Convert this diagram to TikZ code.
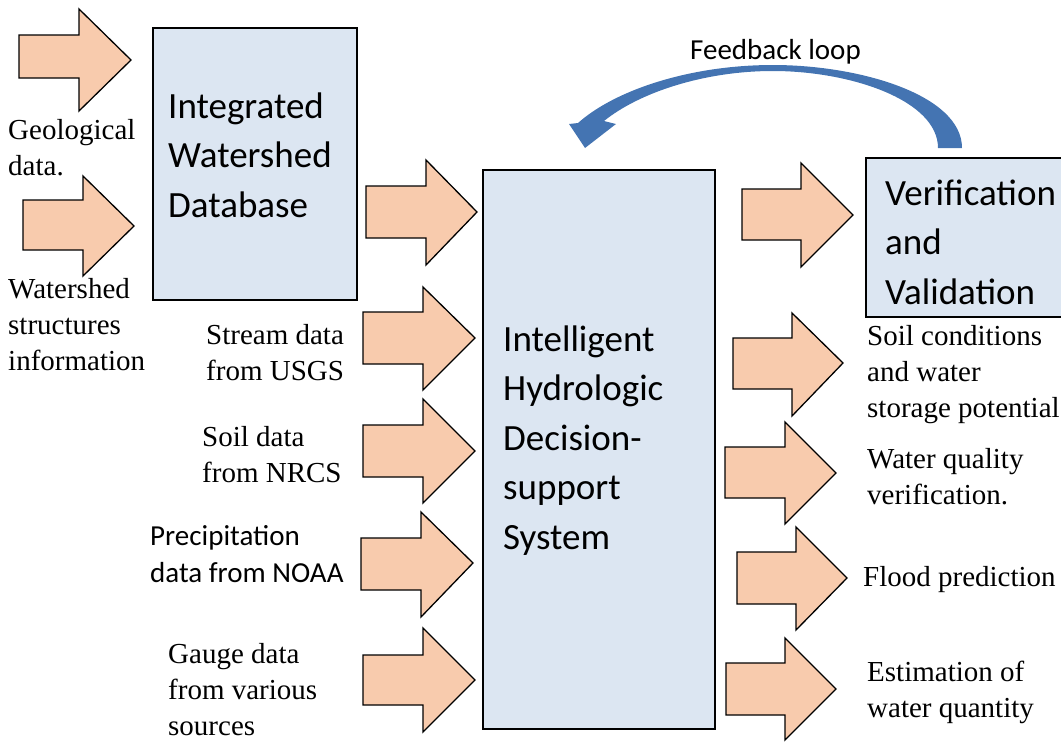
\documentclass[tikz,border=0pt]{standalone}
\usepackage{fontspec}
\setmainfont{Liberation Serif}
\newfontfamily\calfont{Carlito}
\definecolor{peach}{RGB}{248,203,173}
\definecolor{boxblue}{RGB}{220,230,242}
\definecolor{loopblue}{RGB}{68,116,178}
\newcommand\blockarrow[8]{%
  \draw[arrowshape] (#1,#5) -- (#2,#5) -- (#2,#7) -- (#3,#4) -- (#2,#8) -- (#2,#6) -- (#1,#6) -- cycle;}
\tikzset{
  arrowshape/.style={draw=black, line width=1.3pt, fill=peach, line join=miter},
  boxshape/.style={draw=black, line width=1.5pt, fill=boxblue, inner sep=0pt, anchor=north west},
  bigtext/.style={font=\calfont\fontsize{37}{49.5}\selectfont, align=left, inner sep=0pt, anchor=base west},
  caltext/.style={font=\calfont\fontsize{29}{37}\selectfont, align=left, inner sep=0pt, anchor=base west},
  sertext/.style={font=\fontsize{29}{36}\selectfont, align=left, inner sep=0pt, anchor=base west},
}
\begin{document}
\begin{tikzpicture}[x=1pt,y=-1pt]
\useasboundingbox (0,0) rectangle (1061,742);
% boxes
\node[boxshape, minimum width=204pt, minimum height=272pt] (db) at (152,27) {};
\node[boxshape, minimum width=232pt, minimum height=559pt] (ihds) at (482,169) {};
\node[boxshape, minimum width=205pt, minimum height=159pt] (vv) at (865,157) {};
% box texts (anchored at the baseline of the last line)
\node[bigtext] (dbtext) at (168,217) {Integrated\\Watershed\\Database};
\node[bigtext] (ihdstext) at (503,549) {Intelligent\\Hydrologic\\Decision-\\support\\System};
\node[bigtext] (vvtext) at (885,304) {Verification\\and\\Validation};
% feedback loop arrow
\fill[loopblue] (962,148) .. controls (962,95) and (860,65) .. (773,65)
  .. controls (690,65) and (615,90) .. (578,123)
  -- (569,124) -- (585,148) -- (616,124) -- (604,121)
  .. controls (640,92) and (705,71) .. (773,71)
  .. controls (850,71) and (938,100) .. (938,148) -- cycle;
\node[caltext] (fb) at (690,59) {Feedback loop};
% block arrows
\blockarrow{19}{79}{131}{60}{35}{78}{9}{111}
\blockarrow{23}{83}{134}{226}{200}{250}{176}{276}
\blockarrow{366}{426}{477}{212}{186}{238}{160}{265}
\blockarrow{363}{423}{475}{338}{312}{364}{287}{390}
\blockarrow{363}{423}{475}{451}{425}{477}{399}{503}
\blockarrow{361}{421}{473}{563}{538}{590}{512}{617}
\blockarrow{363}{423}{475}{680}{655}{705}{628}{732}
\blockarrow{742}{801}{853}{215}{189}{240}{163}{267}
\blockarrow{733}{792}{843}{363}{338}{389}{313}{416}
\blockarrow{725}{785}{836}{473}{447}{498}{422}{524}
\blockarrow{737}{796}{847}{578}{552}{604}{527}{630}
\blockarrow{726}{785}{836}{689}{663}{715}{638}{740}
% input labels
\node[sertext] (geo) at (8,175) {Geological\\data.};
\node[sertext] (wsi) at (8,370) {Watershed\\structures\\information};
\node[sertext] (usgs) at (206,380) {Stream data\\from USGS};
\node[sertext] (nrcs) at (202,482) {Soil data\\from NRCS};
\node[caltext] (noaa) at (150,582) {Precipitation\\data from NOAA};
\node[sertext] (gauge) at (168,735) {Gauge data\\from various\\sources};
% output labels
\node[sertext] (soilc) at (867,417) {Soil conditions\\and water\\storage potential};
\node[sertext] (wq) at (867,504) {Water quality\\verification.};
\node[sertext] (flood) at (863,586) {Flood prediction};
\node[sertext] (est) at (867,717) {Estimation of\\water quantity};
\end{tikzpicture}
\end{document}
